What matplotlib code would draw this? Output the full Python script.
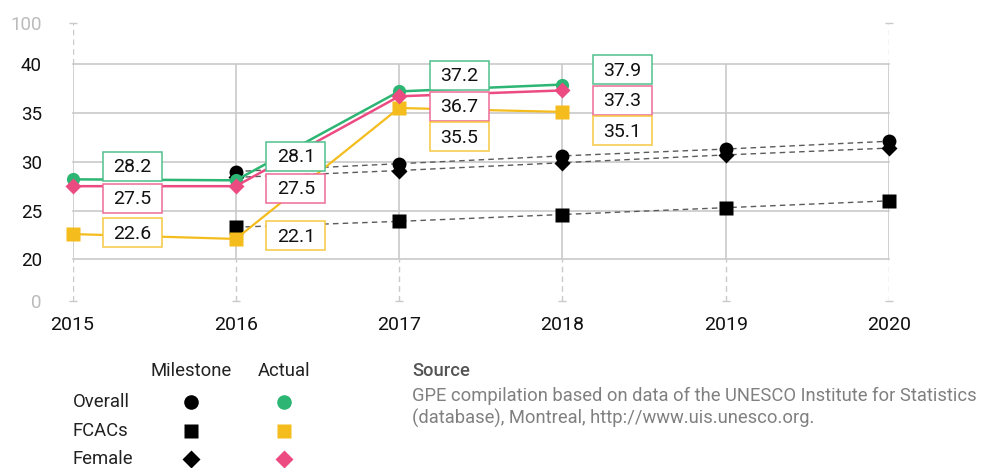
"""Out-of-school milestone chart: actual vs milestone values, 2015-2020."""

import matplotlib
matplotlib.use("Agg")
import matplotlib.pyplot as plt
import numpy as np
from matplotlib.path import Path

plt.rcParams["font.family"] = ["Roboto", "DejaVu Sans"]

YEARS = [2015, 2016, 2017, 2018, 2019, 2020]
ACTUAL_YEARS = [2015, 2016, 2017, 2018]
MILESTONE_YEARS = [2016, 2017, 2018, 2019, 2020]

overall_actual = [28.2, 28.1, 37.2, 37.9]
fcac_actual = [22.6, 22.1, 35.5, 35.1]
female_actual = [27.5, 27.5, 36.7, 37.3]

overall_milestone = [29.0, 29.8, 30.6, 31.3, 32.1]
fcac_milestone = [23.3, 23.9, 24.6, 25.3, 26.0]
female_milestone = [28.4, 29.1, 29.9, 30.7, 31.4]

Y_TICKS = [0, 20, 25, 30, 35, 40, 100]
GRID_Y = [20, 25, 30, 35, 40]

GREEN = "#2db673"
YELLOW = "#f4bc1c"
PINK = "#ec4b82"
GREEN_EDGE = "#4fc08b"
YELLOW_EDGE = "#f6c843"
PINK_EDGE = "#ee6b97"
GRID = "#c9c9c9"

# pixel offsets of the value boxes from their points (dx, dy), dy positive = down
BOX_DX = 60
GREEN_DY = [-12, -23, -15, -14]
PINK_DY = [13, 3, 11, 11]
YELLOW_DY = [0, -2, 30, 20]
BOX_W, BOX_H = 59, 29


def fixed_box(x0, y0, width, height, mutation_size):
    cx = x0 + width / 2
    cy = y0 + height * 0.56
    hw, hh = BOX_W / 2, BOX_H / 2
    verts = [(cx - hw, cy - hh), (cx + hw, cy - hh), (cx + hw, cy + hh),
             (cx - hw, cy + hh), (cx - hw, cy - hh)]
    return Path(verts, closed=True)


# broken axis: 0-20 and 40-100 squeezed into short bands
_raw = [0, 20, 40, 100]
_scaled = [15.8, 20, 40, 44.2]


def fwd(v):
    return np.interp(v, _raw, _scaled)


def inv(v):
    return np.interp(v, _scaled, _raw)


fig = plt.figure(figsize=(9.83, 4.68), dpi=100)
ax = fig.add_axes([72.5 / 983, (468 - 300.5) / 468, (889 - 72.5) / 983, 277.5 / 468])
ax.set_yscale("function", functions=(fwd, inv))
ax.set_ylim(0, 100)
ax.set_xlim(2015, 2020)

for s in ax.spines.values():
    s.set_visible(False)

# grid
for gy in GRID_Y:
    ax.plot([YEARS[0], YEARS[-1]], [gy, gy], color=GRID, lw=1.2, zorder=0, clip_on=False)
ax.vlines(YEARS, 20, 40, color=GRID, lw=1.2, zorder=0)
ax.vlines(YEARS, 0, 20, color=GRID, lw=1.0, linestyles=(0, (4, 3)), zorder=0)
ax.vlines([YEARS[0], YEARS[-1]], 40, 100, color=GRID, lw=1.0, linestyles=(0, (4, 3)), zorder=0)
ax.plot(YEARS, [0] * len(YEARS), ls="none", marker="_", ms=6, mew=1, color=GRID, clip_on=False)
ax.plot([YEARS[0], YEARS[-1]], [100, 100], ls="none", marker="_", ms=6, mew=1, color=GRID, clip_on=False)

# milestones
dash = dict(color="#5a5a5a", lw=1.0, dashes=(4, 3), clip_on=False, zorder=2)
ax.plot(MILESTONE_YEARS, fcac_milestone, **dash)
ax.plot(MILESTONE_YEARS, female_milestone, **dash)
ax.plot(MILESTONE_YEARS, overall_milestone, **dash)
ax.plot(MILESTONE_YEARS, fcac_milestone, ls="none", marker="s", ms=10, color="black", mec="none", zorder=3, clip_on=False)
ax.plot(MILESTONE_YEARS, female_milestone, ls="none", marker="D", ms=8, color="black", mec="none", zorder=3, clip_on=False)
ax.plot(MILESTONE_YEARS, overall_milestone, ls="none", marker="o", ms=10, color="black", mec="none", zorder=3, clip_on=False)

# actuals
ax.plot(ACTUAL_YEARS, fcac_actual, color=YELLOW, lw=1.6, marker="s", ms=10, mec="none", zorder=4, clip_on=False)
ax.plot(ACTUAL_YEARS, overall_actual, color=GREEN, lw=1.8, marker="o", ms=9.5, mec="none", zorder=5, clip_on=False)
ax.plot(ACTUAL_YEARS, female_actual, color=PINK, lw=1.8, marker="D", ms=8.2, mec="none", zorder=6, clip_on=False)

# value boxes
series = [(overall_actual, GREEN_DY, GREEN_EDGE),
          (female_actual, PINK_DY, PINK_EDGE),
          (fcac_actual, YELLOW_DY, YELLOW_EDGE)]
for values, dys, edge in series:
    for yr, v, dy in zip(ACTUAL_YEARS, values, dys):
        ax.annotate(f"{v:.1f}", (yr, v), xytext=(BOX_DX, -dy), textcoords="offset pixels",
                    ha="center", va="center", fontsize=14, color="#111111", zorder=10,
                    bbox=dict(boxstyle=fixed_box, fc="white", ec=edge, lw=1.1),
                    annotation_clip=False)

# ticks
ax.set_xticks(YEARS)
ax.set_xticklabels([str(y) for y in YEARS])
ax.tick_params(axis="x", length=0, pad=11, labelsize=14, labelcolor="#111111")
ax.set_yticks(Y_TICKS)
ax.set_yticklabels([str(t) for t in Y_TICKS])
ax.yaxis.set_minor_locator(matplotlib.ticker.NullLocator())
ax.tick_params(axis="y", length=0, pad=22, labelsize=13.5, labelcolor="#111111")
for lab, t in zip(ax.get_yticklabels(), Y_TICKS):
    if t in (0, 100):
        lab.set_color("#bbbbbb")

# legend block drawn in pixel coordinates along the bottom
lax = fig.add_axes([0, 0, 1, 1], zorder=-1)
lax.set_xlim(0, 983)
lax.set_ylim(468, 0)
lax.axis("off")
lax.text(191, 371, "Milestone", ha="center", va="center", fontsize=13.3, color="#222222")
lax.text(284, 371, "Actual", ha="center", va="center", fontsize=13.3, color="#222222")
rows = [("Overall", "o", 10.5, GREEN), ("FCACs", "s", 10.5, YELLOW), ("Female", "D", 9, PINK)]
for (name, mk, ms, col), ry in zip(rows, [402, 431, 459]):
    lax.text(73, ry, name, ha="left", va="center", fontsize=13.3, color="#222222")
    lax.plot([191], [ry], marker=mk, ms=ms, color="black", mec="none", ls="none", clip_on=False)
    lax.plot([284], [ry], marker=mk, ms=ms, color=col, mec="none", ls="none", clip_on=False)

lax.text(412, 371, "Source", ha="left", va="center", fontsize=13.2, color="#555555", fontweight="medium")
lax.text(412, 396, "GPE compilation based on data of the UNESCO Institute for Statistics",
         ha="left", va="center", fontsize=13.2, color="#808080")
lax.text(412, 418, "(database), Montreal, http://www.uis.unesco.org.",
         ha="left", va="center", fontsize=13.2, color="#808080")

fig.savefig("out.png", dpi=100, facecolor="white")
